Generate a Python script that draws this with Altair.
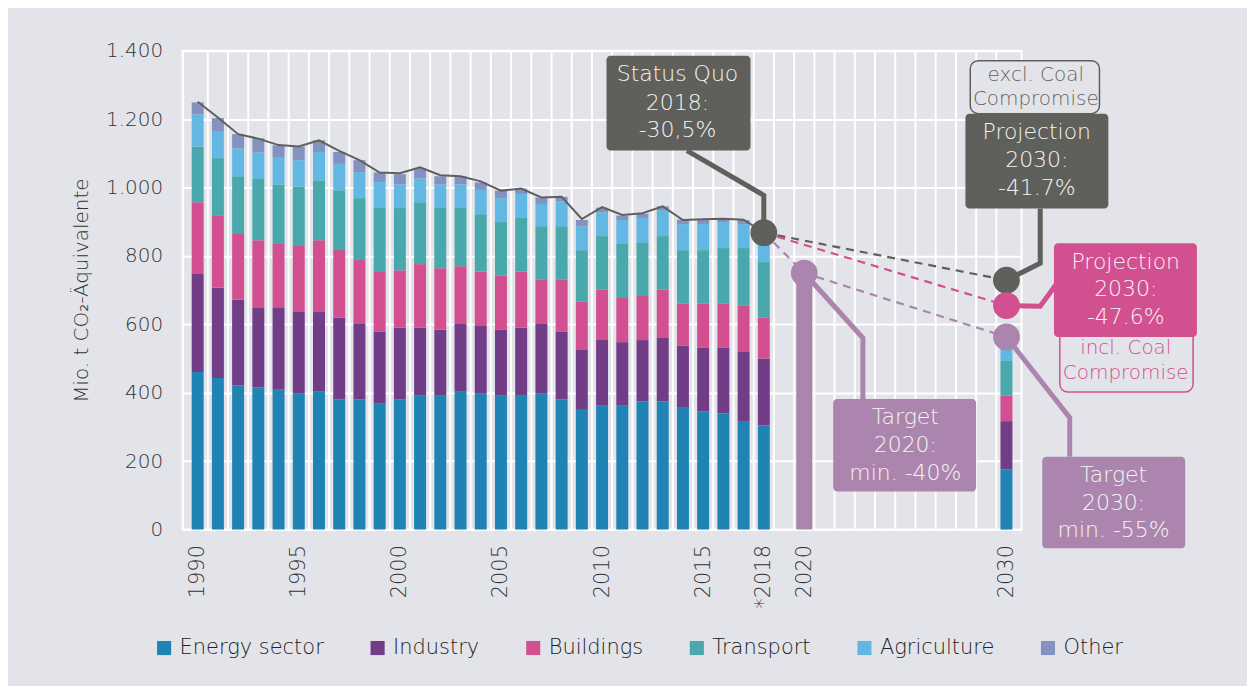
import altair as alt
import pandas as pd

FONT = "DejaVu Sans"
BG = "#e3e4e9"
GREY = "#5f605b"
PINK = "#d2508f"
LAV = "#ac85ae"
TXT = "#333333"
W = 200  # light weight, falls back to regular if not installed

# ---------------- data ----------------
years = list(range(1990, 2019))
energy = [461, 443, 421, 415, 409, 397, 403, 380, 380, 368, 380, 391, 391, 403, 397,
          391, 391, 397, 380, 350, 362, 362, 374, 374, 356, 345, 339, 315, 304]
industry = [286, 264, 251, 233, 239, 239, 233, 239, 221, 210, 210, 199, 193, 198, 198,
            193, 199, 204, 198, 175, 192, 186, 180, 186, 181, 186, 192, 204, 196]
buildings = [210, 210, 192, 198, 187, 193, 210, 198, 187, 175, 168, 186, 180, 169, 159,
             158, 164, 129, 152, 141, 147, 129, 129, 141, 123, 129, 129, 135, 119]
transport = [163, 169, 169, 181, 174, 174, 175, 175, 181, 187, 182, 181, 176, 170, 168,
             157, 157, 157, 157, 151, 157, 158, 157, 157, 157, 157, 163, 169, 163]
agriculture = [94, 77, 82, 76, 78, 77, 83, 77, 76, 76, 69, 70, 69, 69, 71,
               70, 70, 65, 73, 70, 70, 70, 71, 76, 76, 76, 76, 70, 72]
other = [35, 40, 41, 41, 36, 40, 34, 35, 35, 28, 30, 29, 24, 24, 22,
         22, 16, 19, 13, 18, 13, 13, 12, 11, 13, 13, 9, 12, 12]
total = [1251, 1205, 1156, 1143, 1124, 1120, 1138, 1107, 1080, 1044, 1042, 1059, 1036, 1033, 1018,
         991, 997, 971, 973, 908, 943, 920, 925, 945, 905, 907, 909, 906, 868]

year_2030 = 2030
bar_2030 = [176, 141, 75, 101, 58, 5]

sectors = ["Energy sector", "Industry", "Buildings", "Transport", "Agriculture", "Other"]
colors = ["#1f83b4", "#723d87", "#d2508f", "#48a8ab", "#62b8e3", "#8492c1"]

status_quo_2018 = 868
target_2020 = 750
proj_excl_2030 = 729
proj_incl_2030 = 655
target_2030 = 563

x_ticks = [1990, 1995, 2000, 2005, 2010, 2015, 2018, 2020, 2030]
y_ticks = [0, 200, 400, 600, 800, 1000, 1200, 1400]

# ---------------- tables ----------------
series = [energy, industry, buildings, transport, agriculture, other]
rows = []
for i, yr in enumerate(years):
    for j, s in enumerate(sectors):
        rows.append({"year": yr, "sector": s, "value": series[j][i], "idx": j})
for j, s in enumerate(sectors):
    rows.append({"year": year_2030, "sector": s, "value": bar_2030[j], "idx": j})
bars_df = pd.DataFrame(rows)
total_df = pd.DataFrame({"year": years, "value": total})
grid_df = pd.DataFrame({"g": [y + 0.5 for y in range(1990, 2030)]})

xs = alt.Scale(domain=[1989.5, 2030.5], nice=False, zero=False)
ys = alt.Scale(domain=[0, 1400], nice=False)

xaxis = alt.Axis(
    values=x_ticks,
    labelExpr="datum.value == 2018 ? '*2018' : format(datum.value, 'd')",
    labelAngle=270, labelAlign="right", labelBaseline="middle",
    ticks=False, grid=False, domainColor="white", domainWidth=2,
    labelPadding=15, labelFontSize=21, labelFontWeight=W, title=None)
yaxis = alt.Axis(
    values=y_ticks,
    labelExpr="replace(format(datum.value, ','), ',', '.')",
    grid=True, gridColor="white", gridWidth=2, ticks=False,
    domainColor="white", domainWidth=2, labelPadding=20, labelFontSize=20,
    labelFontWeight=W,
    title="Mio. t CO₂-Äquivalente", titlePadding=14, titleFontSize=20,
    titleFontWeight=W)


def X(f):
    return alt.X(f, scale=xs, axis=xaxis)


def Y(f, **kw):
    return alt.Y(f, scale=ys, axis=yaxis, **kw)


grid = alt.Chart(grid_df).mark_rule(color="white", strokeWidth=2).encode(
    x=X("g:Q"), y=alt.value(0), y2=alt.value(480))

bars = alt.Chart(bars_df).mark_bar(size=12).encode(
    x=X("year:Q"),
    y=Y("value:Q", stack="zero"),
    color=alt.Color("sector:N", scale=alt.Scale(domain=sectors, range=colors),
                    legend=alt.Legend(orient="none", legendX=-29, legendY=588,
                                      direction="horizontal", title=None,
                                      symbolType="square", symbolSize=200,
                                      symbolStrokeWidth=0, labelFontSize=21,
                                      labelFontWeight=W,
                                      columnPadding=43, labelOffset=5, padding=0,
                                      labelColor="#222222")),
    order=alt.Order("idx:Q", sort="ascending"),
)

bar2020 = alt.Chart(pd.DataFrame({"year": [2020], "value": [target_2020]})).mark_bar(
    size=16, color=LAV).encode(x=X("year:Q"), y=Y("value:Q"))

total_line = alt.Chart(total_df).mark_line(color=GREY, strokeWidth=2).encode(
    x=X("year:Q"), y=Y("value:Q"))


def path(points, color, width, dash=None):
    df = pd.DataFrame({"year": [p[0] for p in points], "value": [p[1] for p in points],
                       "k": list(range(len(points)))})
    kw = dict(color=color, strokeWidth=width)
    if dash:
        kw["strokeDash"] = dash
    return alt.Chart(df).mark_line(**kw).encode(x=X("year:Q"), y=Y("value:Q"), order="k:Q")


dashed = [
    path([(2018, status_quo_2018), (2030, proj_excl_2030)], GREY, 2.2, [8, 6]),
    path([(2018, status_quo_2018), (2030, proj_incl_2030)], PINK, 2.2, [8, 6]),
    path([(2018, status_quo_2018), (2020, target_2020), (2030, target_2030)], LAV, 2.2, [8, 6]),
]

connectors = [
    path([(2014.2, 1108), (2018, 977), (2018, status_quo_2018)], GREY, 5),
    path([(2020, target_2020), (2022.9, 560), (2022.9, 382)], LAV, 5),
    path([(2031.67, 939), (2031.67, 779), (2030, proj_excl_2030)], GREY, 5),
    path([(2030, proj_incl_2030), (2031.67, 653), (2032.5, 720)], PINK, 5),
    path([(2030, target_2030), (2033.13, 327), (2033.13, 213)], LAV, 5),
]


def dot(x, y, color):
    return alt.Chart(pd.DataFrame({"year": [x], "value": [y]})).mark_circle(
        size=720, color=color, opacity=1).encode(x=X("year:Q"), y=Y("value:Q"))


dots = [
    dot(2018, status_quo_2018, GREY),
    dot(2020, target_2020, LAV),
    dot(2030, proj_excl_2030, GREY),
    dot(2030, proj_incl_2030, PINK),
    dot(2030, target_2030, LAV),
]


def box(x0, x1, y0, y1, fill, stroke=None, radius=4):
    df = pd.DataFrame({"year": [x0], "x1": [x1], "value": [y0], "y1": [y1]})
    kw = dict(fill=fill, cornerRadius=radius, opacity=1)
    if stroke:
        kw.update(stroke=stroke, strokeWidth=1.5)
    return alt.Chart(df).mark_rect(**kw).encode(
        x=X("year:Q"), x2="x1:Q", y=Y("value:Q"), y2="y1:Q")


boxes = [
    box(2028.21, 2034.6, 1216, 1371, BG, GREY, 8),
    box(2032.64, 2039.23, 402, 590, BG, PINK, 8),
    box(2010.22, 2017.34, 1108, 1385, GREY),
    box(2021.43, 2028.5, 111, 382, LAV),
    box(2027.97, 2035.04, 939, 1216, GREY),
    box(2032.35, 2039.42, 563, 837, PINK),
    box(2031.77, 2038.84, -55, 213, LAV),
]


def label(x, ys_, lines, color, size):
    df = pd.DataFrame({"year": [x] * len(lines), "value": ys_, "t": lines})
    return alt.Chart(df).mark_text(font=FONT, fontSize=size, color=color, fontWeight=W,
                                   baseline="middle", align="center").encode(
        x=X("year:Q"), y=Y("value:Q"), text="t:N")


WHITE = "#f4f4f4"
labels = [
    label(2013.73, [1333, 1248, 1167], ["Status Quo", "2018:", "-30,5%"], WHITE, 22),
    label(2025.0, [330, 248, 166], ["Target", "2020:", "min. -40%"], WHITE, 22),
    label(2031.45, [1330, 1260], ["excl. Coal", "Compromise"], "#66665f", 20),
    label(2031.5, [1161, 1079, 1000], ["Projection", "2030:", "-41.7%"], WHITE, 22),
    label(2035.9, [782, 703, 621], ["Projection", "2030:", "-47.6%"], WHITE, 22),
    label(2035.9, [531, 458], ["incl. Coal", "Compromise"], PINK, 20),
    label(2035.3, [160, 79, 0], ["Target", "2030:", "min. -55%"], WHITE, 22),
]

chart = alt.layer(
    grid, bars, bar2020, total_line, *dashed, *connectors, *dots, *boxes, *labels
).properties(
    width=841, height=480,
    padding={"left": 175, "top": 42, "right": 226, "bottom": 156},
    autosize=alt.AutoSizeParams(type="none"),
    background=BG,
).configure_view(
    stroke="white", strokeWidth=2
).configure_axis(
    labelFont=FONT, titleFont=FONT, labelColor=TXT, titleColor=TXT
).configure_legend(
    labelFont=FONT
)

chart.save("out.html", embed_options={"renderer": "svg", "actions": False})
